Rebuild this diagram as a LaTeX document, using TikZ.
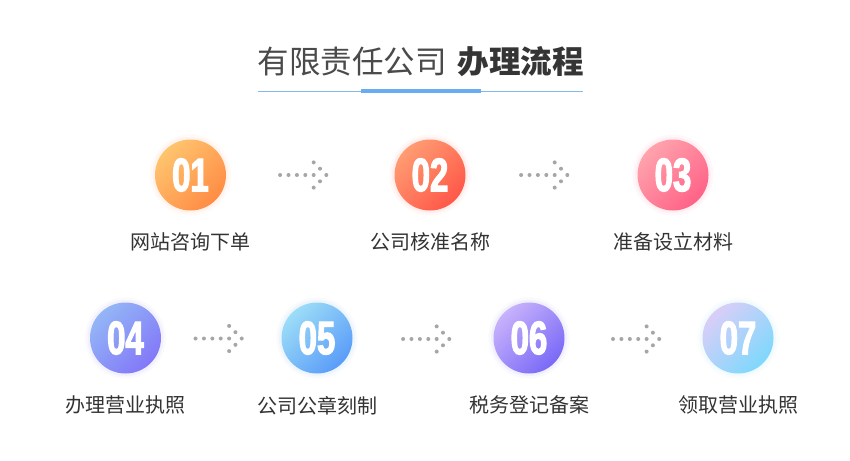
\documentclass[tikz,border=0pt]{standalone}
\usepackage{fontspec}
\setmainfont{Noto Sans CJK SC}
\newfontfamily\numfont{Liberation Sans}[FakeStretch=0.7,BoldFeatures={FakeBold=2.5}]
\usetikzlibrary{positioning,calc}
\definecolor{txtdark}{HTML}{333333}
\definecolor{titlegray}{HTML}{4A4A4A}
\definecolor{titledark}{HTML}{353535}
\definecolor{linethin}{HTML}{86B8EC}
\definecolor{linebar}{HTML}{69ACEF}
\definecolor{dotgray}{HTML}{A6A6A6}
\definecolor{oneL}{HTML}{FFC46E}\definecolor{oneD}{HTML}{FF8C45}
\definecolor{twoL}{HTML}{FF9C72}\definecolor{twoD}{HTML}{FF5848}
\definecolor{threeL}{HTML}{FFA3AD}\definecolor{threeD}{HTML}{FF6287}
\definecolor{fourL}{HTML}{93B6F6}\definecolor{fourD}{HTML}{8378F8}
\definecolor{fiveL}{HTML}{9CDDF8}\definecolor{fiveD}{HTML}{5A9CF8}
\definecolor{sixL}{HTML}{C7B2FB}\definecolor{sixD}{HTML}{7A69F7}
\definecolor{sevenL}{HTML}{DACEF8}\definecolor{sevenD}{HTML}{7ED8FC}
\begin{document}
\begin{tikzpicture}[x=1pt,y=-1pt,
  stepnum/.style 2 args={circle,minimum size=71pt,inner sep=0pt,outer sep=0pt,
    preaction={draw=#2,draw opacity=0.04,line width=10pt},
    preaction={draw=#2,draw opacity=0.06,line width=5pt},
    left color=#1,right color=#2,shading angle=45,
    text=white,font=\numfont\bfseries\fontsize{47}{47}\selectfont},
  steplbl/.style={below=22.5pt,inner sep=0pt,outer sep=0pt,text=txtdark,font=\fontsize{20}{20}\selectfont},
  dotarrow/.pic={
    \foreach \k in {0,...,4} \fill[dotgray] (-12.6-8.4*\k,0) circle[radius=2pt];
    \foreach \p in {(0,0),(-6.3,-6.3),(-12.6,-12.6),(-6.3,6.3),(-12.6,12.6)}
      \fill[dotgray] \p circle[radius=2pt];
  }]
\fill[white] (0,0) rectangle (850,460);
\useasboundingbox (0,0) rectangle (850,460);

% title and underline
\draw (420.5,61.5) node[inner sep=0pt,text=titlegray,font=\fontsize{31.5}{31.5}\selectfont] (Title) {有限责任公司\hspace{11pt}{\bfseries\color{titledark}办理流程}};
\draw[linethin,line width=1pt] (258,91) -- (583,91);
\draw[linebar,line width=4.5pt] (361,91) -- (481,91);

% first row
\draw (190.5,175) node[stepnum={oneL}{oneD}] (N1) {01};
\draw (N1.south) node[steplbl] (L1) {网站咨询下单};
\draw (430,175) node[stepnum={twoL}{twoD}] (N2) {02};
\draw (N2.south) node[steplbl] (L2) {公司核准名称};
\draw (673,175) node[stepnum={threeL}{threeD}] (N3) {03};
\draw (N3.south) node[steplbl] (L3) {准备设立材料};

% second row
\draw (125.5,338) node[stepnum={fourL}{fourD}] (N4) {04};
\draw (N4.south) node[steplbl] (L4) {办理营业执照};
\draw (317,338) node[stepnum={fiveL}{fiveD}] (N5) {05};
\draw (N5.south) node[steplbl] (L5) {公司公章刻制};
\draw (529,338) node[stepnum={sixL}{sixD}] (N6) {06};
\draw (N6.south) node[steplbl] (L6) {税务登记备案};
\draw (738,338) node[stepnum={sevenL}{sevenD}] (N7) {07};
\draw (N7.south) node[steplbl] (L7) {领取营业执照};

% dotted arrows
\pic at ($(N1)!0.567!(N2)$) {dotarrow};
\pic at ($(N2)!0.565!(N3)$) {dotarrow};
\pic at ($(N4)!0.607!(N5)+(0,0.5)$) {dotarrow};
\pic at ($(N5)!0.624!(N6)+(0,1)$) {dotarrow};
\pic at ($(N6)!0.623!(N7)+(0,1)$) {dotarrow};

\end{tikzpicture}
\end{document}
